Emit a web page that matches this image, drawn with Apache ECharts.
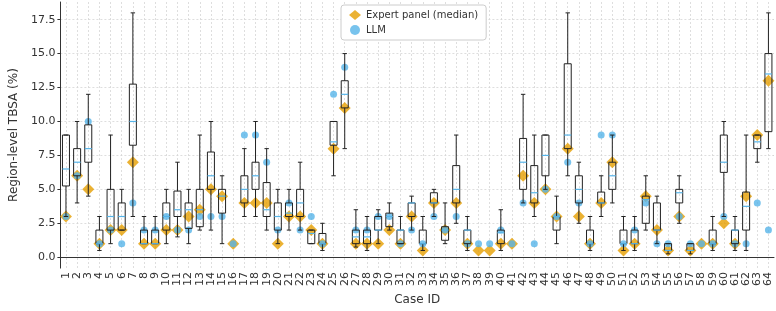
<!DOCTYPE html>
<html lang="en">
<head>
    <meta charset="UTF-8">
    <title>Region-level TBSA by case</title>
    <script src="https://cdn.jsdelivr.net/npm/echarts@6/dist/echarts.min.js"></script>
    <style>
        html, body { margin: 0; padding: 0; background: #fff; }
        #main { width: 776px; height: 311px; }
    </style>
</head>
<body>
    <div id="main"></div>
    <script type="text/javascript">
      // case ids 1..64
      var caseIds = [];
      for (var i = 1; i <= 64; i++) caseIds.push(String(i));

      // box stats per case (null = no box drawn)
      var lo  = [3,4,4.5,0.5,1,2,3,1,1,1, 1.5,1,2,2,1,null,3,3,2,1, 2,2,1,0.5,6,8,0.75,0.5,1,2, 1,2,0.5,3,1,2.5,0.5,null,null,0.5, null,4,3,5,1,6,2.5,0.5,3,4, 0.5,0.5,2,1,0.25,2.5,0.25,null,0.5,3, 0.5,0.5,7,8];
      var q1  = [5.25,6,7,1,2,2,8.25,1,1,2, 3,2.125,2.25,5,3.25,null,4,5,3,2, 3,3,1,1,8.25,11,1,1,2,2.25, 1,3,1,4,1.25,4,1,null,null,1, null,5,4,6,2,8,4,1,4,5, 1,1,2.5,2,0.5,4,0.5,null,1,6.25, 1,2,8,9.25];
      var med = [6.5,7,8,1,3,3,10,1,1,3, 3.5,3.5,3.5,6,4.5,null,5,6,3.5,3, 3.25,4,1.75,1,8.5,12,1.5,1.5,2,3, 2,4,1,4,2,5,2,null,null,1.8, null,7,4.75,7.5,3,9,5,1,4,6, 1,1,4.25,2,0.5,4.75,0.5,null,1,7, 2,3.75,8.5,13.5];
      var q3  = [9,8,9.75,2,5,4,12.75,2,2,4, 4.875,4,5,7.75,5,null,6,7,5.5,4, 4,5,2,1.75,10,13,2,2,3,3.25, 2,4,2,4.75,2.25,6.75,2,null,null,2, null,8.75,6.75,9,3,14.25,6,2,4.8,7, 2,2,4.5,4,1,5,1,null,2,9, 2,4.8,9,15];
      var hi  = [9,10,12,3,9,5,18,3,3,5, 7,5,9,10,6,null,8,10,8,5, 5,7,2,2.5,10,15,3.5,3,3.5,4, 3,4.5,3,5,4,9,3,null,null,3.5, null,12,9,9,4.5,18,7,3,6,9, 3,3,6,4.5,1,6,1,null,3,10, 3,9,9,18];

      // expert panel median and LLM estimate
      var expert = [3,6,5,1,2,2,7,1,1,2, 2,3,3.5,5,4.5,1,4,4,4,1, 3,3,2,1,8,11,1,1,1,2, 1,3,0.5,4,2,4,1,0.5,0.5,1, 1,6,4,5,3,8,3,1,4,7, 0.5,1,4.5,2,0.5,3,0.5,1,1,2.5, 1,4.5,9,13];
      var llm    = [3,6,10,1,2,1,4,2,2,3, 2,2,3,3,3,1,9,9,7,2, 4,2,3,1,12,14,2,2,3,3, 1,2,1,3,2,3,1,1,1,2, 1,4,1,5,3,7,4,1,9,9, 1,2,4,1,1,3,1,1,1,3, 1,1,4,2];

      var yTicks = [0, 2.5, 5, 7.5, 10, 12.5, 15, 17.5];

      var boxData = [];
      for (var i = 0; i < caseIds.length; i++) {
        if (lo[i] !== null) boxData.push([i, lo[i], q1[i], med[i], q3[i], hi[i]]);
      }

      var BOX_HALF = 3.5, CAP_HALF = 2.2;

      // draws box, whiskers, caps and a light blue median line
      function renderBox(params, api) {
        var x = api.value(0);
        var pLo = api.coord([x, api.value(1)]);
        var pQ1 = api.coord([x, api.value(2)]);
        var pMed = api.coord([x, api.value(3)]);
        var pQ3 = api.coord([x, api.value(4)]);
        var pHi = api.coord([x, api.value(5)]);
        var cx = pQ1[0];
        var dark = { stroke: '#222', lineWidth: 1, fill: null };
        var kids = [
          { type: 'line', shape: { x1: cx, y1: pQ1[1], x2: cx, y2: pLo[1] }, style: dark },
          { type: 'line', shape: { x1: cx, y1: pQ3[1], x2: cx, y2: pHi[1] }, style: dark },
          { type: 'line', shape: { x1: cx - CAP_HALF, y1: pLo[1], x2: cx + CAP_HALF, y2: pLo[1] }, style: dark },
          { type: 'line', shape: { x1: cx - CAP_HALF, y1: pHi[1], x2: cx + CAP_HALF, y2: pHi[1] }, style: dark },
          { type: 'rect', shape: { x: cx - BOX_HALF, y: pQ3[1], width: BOX_HALF * 2, height: pQ1[1] - pQ3[1] },
            style: { stroke: '#222', lineWidth: 1, fill: 'rgba(0,0,0,0)' } },
          { type: 'line', shape: { x1: cx - BOX_HALF, y1: pMed[1], x2: cx + BOX_HALF, y2: pMed[1] },
            style: { stroke: '#56B4E9', lineWidth: 1.2 } }
        ];
        return { type: 'group', children: kids };
      }

      var myChart = echarts.init(document.getElementById('main'));

      var option = {
        animation: false,
        textStyle: { fontFamily: 'DejaVu Sans' },
        grid: { left: 42, right: 2, top: 2, bottom: 30 },
        legend: {
          orient: 'vertical',
          left: 341,
          top: 5,
          padding: [5, 8, 5, 8],
          itemGap: 5,
          itemWidth: 12,
          itemHeight: 10,
          borderColor: '#cccccc',
          borderWidth: 1,
          borderRadius: 3,
          backgroundColor: '#ffffff',
          textStyle: { fontSize: 10, color: '#333' },
          data: [
            { name: 'Expert panel (median)', icon: 'diamond' },
            { name: 'LLM', icon: 'circle' }
          ]
        },
        xAxis: {
          type: 'category',
          data: caseIds,
          name: 'Case ID',
          nameLocation: 'middle',
          nameGap: 19,
          nameTextStyle: { fontSize: 12, color: '#333' },
          axisLine: { lineStyle: { color: '#333' } },
          axisTick: { alignWithLabel: true, length: 3, lineStyle: { color: '#333' } },
          axisLabel: { rotate: 90, fontSize: 11, color: '#333', interval: 0, margin: 4 },
          splitLine: {
            show: true,
            alignWithLabel: true,
            interval: 0,
            lineStyle: { color: '#d6d6d6', type: [2, 2], width: 0.8 }
          }
        },
        yAxis: {
          type: 'value',
          min: -0.8,
          max: 18.8,
          name: 'Region-level TBSA (%)',
          nameLocation: 'middle',
          nameGap: 30,
          nameTextStyle: { fontSize: 12, color: '#333' },
          axisLine: { show: true, lineStyle: { color: '#333' } },
          axisTick: { show: true, length: 3, customValues: yTicks, lineStyle: { color: '#333' } },
          axisLabel: {
            fontSize: 11,
            color: '#333',
            margin: 5,
            customValues: yTicks,
            formatter: function (v) { return v.toFixed(1); }
          },
          splitLine: {
            show: true,
            lineStyle: { color: '#d6d6d6', type: [2, 2], width: 0.8 }
          }
        },
        series: [
          {
            name: 'Expert panel (median)',
            type: 'scatter',
            symbol: 'diamond',
            symbolSize: 12,
            itemStyle: { color: '#E69F00' },
            z: 2,
            data: expert
          },
          {
            name: 'LLM',
            type: 'scatter',
            symbol: 'circle',
            symbolSize: 7,
            itemStyle: { color: '#56B4E9' },
            z: 3,
            data: llm
          },
          {
            name: 'box',
            type: 'custom',
            renderItem: renderBox,
            encode: { x: 0, y: [1, 2, 3, 4, 5] },
            z: 4,
            silent: true,
            data: boxData
          }
        ]
      };
      myChart.setOption(option);
    </script>
</body>
</html>
